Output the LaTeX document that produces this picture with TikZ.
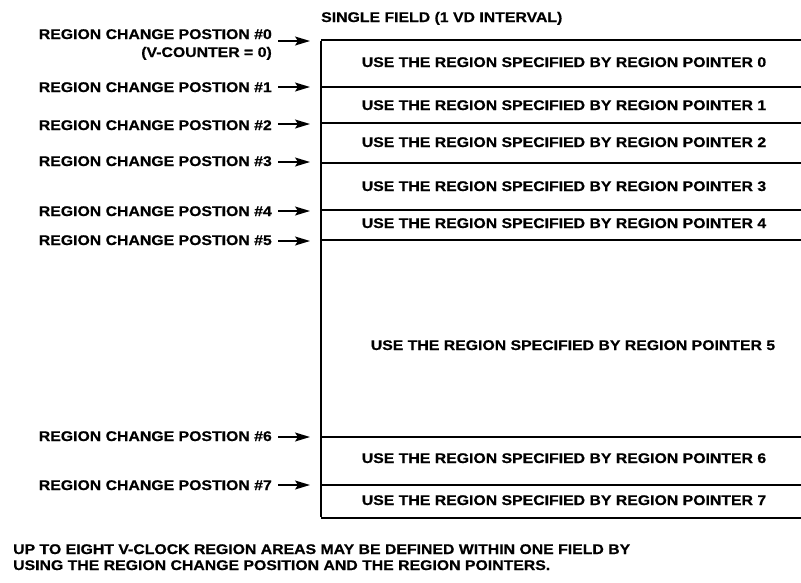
\documentclass[tikz,border=0pt]{standalone}
\usepackage{fontspec}
\newfontfamily\lblfont[FakeStretch=1.13,BoldFeatures={FakeBold=0.6}]{Liberation Sans}
\usetikzlibrary{arrows.meta,calc}
\begin{document}
\begin{tikzpicture}[x=1pt,y=-1pt,
  txt/.style={font=\lblfont\bfseries\fontsize{14}{16}\selectfont,inner sep=0pt},
  lbl/.style={txt,anchor=base east},
  reg/.style={txt,anchor=base},
  sep/.style={line width=2pt},
  arr/.style={line width=1.5pt,-{Stealth[length=15pt,width=9pt,inset=3pt]}}]
\useasboundingbox (0,0) rectangle (801,582);
% box left edge points
\foreach \n/\y in {0/40,1/87,2/123,3/163,4/210,5/240,6/437,7/485,8/518}
  \coordinate (p\n) at (321,\y);
\foreach \n in {0,...,8}
  \draw[sep] (p\n) -- (801,0 |- p\n);
\draw[sep] ([yshift=-1pt]p0) -- ([yshift=1pt]p8);
% title
\node[txt,anchor=base west] (title) at (321,22) {SINGLE FIELD (1 VD INTERVAL)};
% labels
\node[lbl] (l0) at (272,39) {REGION CHANGE POSTION \#0};
\node[lbl] (l0b) at (272,57) {(V-COUNTER = 0)};
\node[lbl] (l1) at (272,92) {REGION CHANGE POSTION \#1};
\node[lbl] (l2) at (272,130) {REGION CHANGE POSTION \#2};
\node[lbl] (l3) at (272,166) {REGION CHANGE POSTION \#3};
\node[lbl] (l4) at (272,216) {REGION CHANGE POSTION \#4};
\node[lbl] (l5) at (272,245) {REGION CHANGE POSTION \#5};
\node[lbl] (l6) at (272,441) {REGION CHANGE POSTION \#6};
\node[lbl] (l7) at (272,490) {REGION CHANGE POSTION \#7};
\foreach \n/\d in {0/1,1/0,2/1,3/-1,4/1,5/1,6/0,7/0}
  \draw[arr] ($(l\n.east |- p\n)+(6,\d)$) -- ($(p\n)+(-11,\d)$);
% region texts
\node[reg] (r0) at (564,67) {USE THE REGION SPECIFIED BY REGION POINTER 0};
\node[reg] (r1) at (564,110) {USE THE REGION SPECIFIED BY REGION POINTER 1};
\node[reg] (r2) at (564,147) {USE THE REGION SPECIFIED BY REGION POINTER 2};
\node[reg] (r3) at (564,191) {USE THE REGION SPECIFIED BY REGION POINTER 3};
\node[reg] (r4) at (564,228) {USE THE REGION SPECIFIED BY REGION POINTER 4};
\node[reg] (r5) at (573,350) {USE THE REGION SPECIFIED BY REGION POINTER 5};
\node[reg] (r6) at (564,463) {USE THE REGION SPECIFIED BY REGION POINTER 6};
\node[reg] (r7) at (564,505) {USE THE REGION SPECIFIED BY REGION POINTER 7};
% note
\node[txt,anchor=base west] (n1) at (13,554) {UP TO EIGHT V-CLOCK REGION AREAS MAY BE DEFINED WITHIN ONE FIELD BY};
\node[txt,anchor=base west] (n2) at (13,570) {USING THE REGION CHANGE POSITION AND THE REGION POINTERS.};
\end{tikzpicture}
\end{document}
